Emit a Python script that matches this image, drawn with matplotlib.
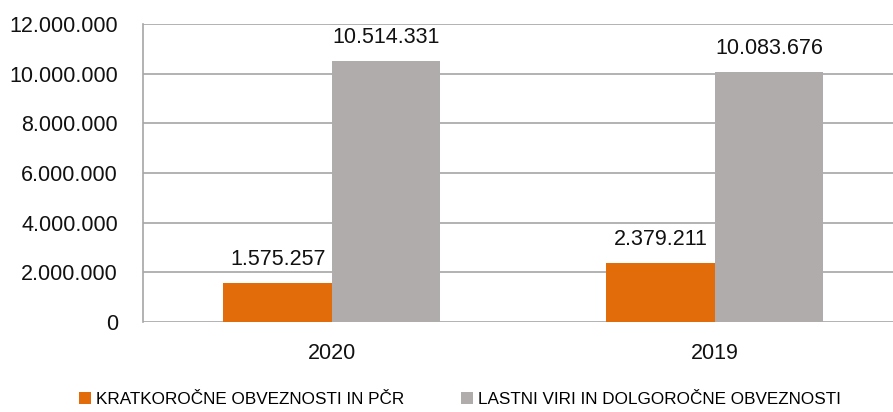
import matplotlib
matplotlib.use("Agg")
import matplotlib.pyplot as plt
import numpy as np

categories = ["2020", "2019"]
series_names = ["KRATKOROČNE OBVEZNOSTI IN PČR", "LASTNI VIRI IN DOLGOROČNE OBVEZNOSTI"]
short_term = [1575257, 2379211]
long_term = [10514331, 10083676]
yticks = [0, 2000000, 4000000, 6000000, 8000000, 10000000, 12000000]
colors = ["#E36C0A", "#AFACAB"]

def fmt(v):
    return f"{v:,.0f}".replace(",", ".")

plt.rcParams['font.family'] = ['Liberation Sans', 'DejaVu Sans']
W, H = 893, 412
fig = plt.figure(figsize=(W/100, H/100), dpi=100)
left, right, top, bottom = 143, 893, 24, 322
ax = fig.add_axes([left/W, 1-bottom/H, (right-left)/W, (bottom-top)/H])

x = np.arange(len(categories))
bw = 0.283
for vals, off, c, name in [(short_term, -bw/2, colors[0], series_names[0]),
                           (long_term, bw/2, colors[1], series_names[1])]:
    bars = ax.bar(x + off, vals, bw, color=c, label=name, zorder=3)
    for b, v in zip(bars, vals):
        ax.text(b.get_x() + b.get_width()/2, v + 500000, fmt(v), ha='center', va='bottom',
                fontsize=15.5, color='#111111', zorder=4)

ax.set_xlim(-0.493, 1.465)
ax.set_ylim(0, 12000000)
ax.set_yticks(yticks)
ax.set_yticklabels([fmt(v) for v in yticks], fontsize=15.5, color='#111111')
ax.set_xticks(x)
ax.set_xticklabels(categories, fontsize=15.5, color='#111111')
ax.tick_params(axis='y', length=0, pad=18)
ax.tick_params(axis='x', length=0, pad=15)
ax.grid(axis='y', color='#A6A6A6', linewidth=1.2, zorder=0)
for s in ['top', 'right', 'bottom']:
    ax.spines[s].set_visible(False)
ax.spines['left'].set_color('#A6A6A6')
ax.spines['left'].set_linewidth(1.2)

fig.legend(loc='lower center', bbox_to_anchor=(0.515, -0.025), ncol=2, frameon=False,
           fontsize=12.3, handlelength=0.7, handleheight=0.7, handletextpad=0.3,
           columnspacing=3.3)
fig.savefig("out.png", dpi=100)
